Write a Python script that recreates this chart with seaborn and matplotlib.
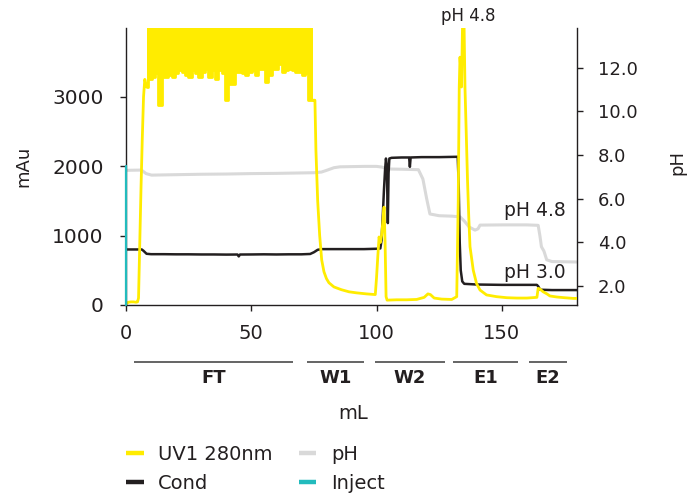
import numpy as np
import pandas as pd
import matplotlib
matplotlib.use("Agg")
import matplotlib.pyplot as plt
import matplotlib.transforms as mtransforms
from matplotlib.ticker import FormatStrFormatter
import seaborn as sns

# ---------------------------------------------------------------- data
# UV 280 nm (mAU): baseline and rise before the load phase
uv_ml_lead = [0, 1, 2, 3, 4, 4.6, 5.0, 5.5, 6.0, 6.5, 7.0, 7.5, 8.25]
uv_lead = [15, 40, 45, 45, 40, 45, 100, 900, 1700, 2400, 3000, 3250, 3140]

# Load phase (flow-through): detector saturated, values are the lower edge of the trace
ft_ml_first, ft_ml_last = 8.25, 74.75
ft_trough = [3140, 3260, 3285, 3335, 2880, 3285, 3285, 3310, 3285, 3335,
             3380, 3355, 3310, 3285, 3380, 3335, 3285, 3355, 3405, 3285,
             3380, 3260, 3380, 3335, 2950, 3190, 3190, 3355, 3355, 3335,
             3310, 3355, 3380, 3310, 3405, 3405, 3215, 3310, 3405, 3405,
             3475, 3355, 3380, 3405, 3380, 3355, 3355, 3310, 3335, 2950,
             2950]

# UV after the load phase: washes, elution 1 and elution 2
uv_ml_tail = [74.75, 75.4, 75.8, 76.5, 77.3, 78.1, 79.0, 80.0, 81.0, 83.0, 86.0,
              89.0, 92.0, 96.0, 99.5, 100.0, 100.5, 101.0, 101.5, 102.0, 102.5,
              103.0, 103.4, 103.8, 104.2, 108.0, 112.0, 116.0, 119.0, 120.5, 121.5,
              123.0, 126.0, 130.0, 132.0, 132.6, 133.0, 133.3, 133.6, 133.9, 134.3,
              134.6, 134.9, 135.3, 135.8, 136.3, 136.8, 137.3, 138.6, 139.9, 141.3,
              143.9, 147.9, 152.0, 156.0, 160.0, 164.0, 164.5, 165.2, 166.5, 168.0,
              169.2, 172.0, 175.0, 178.5, 180.0]
uv_tail = [2950, 2950, 2230, 1500, 1000, 650, 480, 380, 320, 260, 220,
           190, 175, 160, 150, 400, 700, 980, 900, 1000, 1200,
           1410, 900, 120, 70, 75, 75, 80, 110, 160, 150,
           100, 85, 80, 120, 1500, 3140, 3570, 3400, 3140, 4000,
           4600, 4100, 3120, 2470, 1800, 1270, 840, 500, 310, 215,
           145, 120, 105, 100, 100, 110, 240, 230, 190, 160,
           130, 115, 105, 95, 95]

# Conductivity trace, shown on the mAU scale
cond_ml = [0, 6.3, 7.0, 8.2, 10, 15, 20, 25, 30, 35,
           40, 44.5, 45, 45.5, 50, 55, 60, 65, 70, 73.5,
           75.0, 76.5, 78, 85, 90, 95, 100, 101.5, 102.0, 102.5,
           102.95, 103.4, 103.75, 104.1, 104.5, 104.8, 105.1, 106, 110, 113.0,
           113.3, 113.6, 118, 125, 132.4, 132.8, 133.2, 133.6, 134.2, 135,
           140, 150, 160, 164.0, 164.6, 165.3, 170, 180]
cond = [800, 800, 780, 738, 732, 732, 730, 730, 728, 728,
        726, 727, 700, 727, 728, 730, 728, 730, 730, 735,
        760, 795, 805, 805, 805, 805, 810, 815, 935, 1300,
        1655, 1950, 2110, 2000, 1180, 1900, 2110, 2120, 2125, 2125,
        1990, 2125, 2130, 2130, 2135, 1700, 900, 500, 340, 305,
        295, 290, 290, 290, 265, 220, 215, 215]

# pH trace (right axis)
ph_ml = [0, 5.5, 6.3, 8.0, 10.2, 20, 30, 40, 50, 60,
         70, 75, 78, 80.1, 83, 85.4, 95, 100, 102, 105,
         110, 116.7, 118.5, 120, 121.3, 125, 130, 133.3, 135, 137,
         139.3, 140.5, 141.3, 150, 160, 164.5, 165.2, 165.8, 166.8, 167.9,
         170, 180]
ph = [7.30, 7.31, 7.30, 7.15, 7.08, 7.10, 7.12, 7.13, 7.15, 7.16,
      7.18, 7.19, 7.22, 7.30, 7.42, 7.46, 7.48, 7.48, 7.45, 7.36,
      7.35, 7.33, 6.90, 6.00, 5.30, 5.22, 5.20, 5.17, 4.98, 4.70,
      4.56, 4.62, 4.79, 4.80, 4.80, 4.78, 4.30, 3.80, 3.60, 3.20,
      3.12, 3.10]

# Sample injection marker
inject_ml = [0, 0]
inject = [0, 2000]

# Fraction bands under the x axis
frac_names = ["FT", "W1", "W2", "E1", "E2"]
frac_start = [3.2, 72.1, 99.4, 130.5, 160.9]
frac_end = [66.6, 94.9, 127.3, 156.4, 176.0]

# Text annotations: (mL, value, text)
ph_notes = [(163.2, 5.45, "pH 4.8"), (163.2, 2.64, "pH 3.0")]
peak_note = (136.6, "pH 4.8")

# ---------------------------------------------------------------- style
UV_COLOR = "#FFEC00"
COND_COLOR = "#231F20"
PH_COLOR = "#D9D9D9"
INJ_COLOR = "#22BBBD"
TEXT_COLOR = "#231F20"

sns.set_theme(style="ticks")
plt.rcParams["font.family"] = ["DejaVu Sans"]
plt.rcParams["text.color"] = TEXT_COLOR
plt.rcParams["axes.edgecolor"] = TEXT_COLOR
plt.rcParams["xtick.color"] = TEXT_COLOR
plt.rcParams["ytick.color"] = TEXT_COLOR
plt.rcParams["axes.labelcolor"] = TEXT_COLOR

ft_ml = np.linspace(ft_ml_first, ft_ml_last, len(ft_trough))
lead_df = pd.DataFrame({"ml": uv_ml_lead, "mAU": uv_lead})
ft_df = pd.DataFrame({"ml": ft_ml, "mAU": ft_trough})
tail_df = pd.DataFrame({"ml": uv_ml_tail, "mAU": uv_tail})
cond_df = pd.DataFrame({"ml": cond_ml, "mAU": cond})
ph_df = pd.DataFrame({"ml": ph_ml, "pH": ph})
inj_df = pd.DataFrame({"ml": inject_ml, "mAU": inject})

fig = plt.figure(figsize=(7.0, 4.94), dpi=100)
ax = fig.add_axes([126 / 700, 1 - 305 / 494, 451 / 700, 277 / 494])
ax2 = ax.twinx()
ax.set_zorder(ax2.get_zorder() + 1)
ax.patch.set_visible(False)

YMAX = 3990
UV_LW = 2.0
sns.lineplot(data=ph_df, x="ml", y="pH", ax=ax2, color=PH_COLOR, linewidth=2.2,
             estimator=None, sort=False, label="pH")
sns.lineplot(data=cond_df, x="ml", y="mAU", ax=ax, color=COND_COLOR, linewidth=1.8,
             estimator=None, sort=False, label="Cond")
sns.lineplot(data=lead_df, x="ml", y="mAU", ax=ax, color=UV_COLOR, linewidth=UV_LW,
             estimator=None, sort=False, label="UV1 280nm")
# saturated load phase: jagged lower edge, solid up to the detector ceiling
sns.lineplot(data=ft_df, x="ml", y="mAU", ax=ax, color=UV_COLOR, linewidth=UV_LW,
             estimator=None, sort=False, drawstyle="steps-mid")
ax.fill_between(ft_ml, ft_trough, YMAX + 600, step="mid", color=UV_COLOR,
                linewidth=0, zorder=2)
sns.lineplot(data=tail_df, x="ml", y="mAU", ax=ax, color=UV_COLOR, linewidth=UV_LW,
             estimator=None, sort=False)
sns.lineplot(data=inj_df, x="ml", y="mAU", ax=ax, color=INJ_COLOR, linewidth=1.6,
             estimator=None, sort=False, label="Inject")
ax.lines[-1].set_clip_on(False)
ax.lines[-1].set_zorder(3)

# axes limits and ticks
ax.set_xlim(0, 180)
ax.set_ylim(0, YMAX)
ax2.set_ylim(1.13, 13.82)
ax.set_xticks([0, 50, 100, 150])
ax.set_yticks([0, 1000, 2000, 3000])
ax2.set_yticks([2, 4, 6, 8, 10, 12])
ax2.yaxis.set_major_formatter(FormatStrFormatter("%.1f"))

ax.tick_params(axis="y", length=4, width=1, pad=12, labelsize=14.5)
ax.tick_params(axis="x", length=4, width=1, pad=10, labelsize=14)
ax2.tick_params(axis="y", length=4, width=1, pad=11, labelsize=13)

for side in ["top", "right"]:
    ax.spines[side].set_visible(False)
for side in ["top", "left", "bottom"]:
    ax2.spines[side].set_visible(False)
for sp in list(ax.spines.values()) + list(ax2.spines.values()):
    sp.set_linewidth(1.0)

# axis titles
ax.set_ylabel("mAu", fontsize=13)
ax.yaxis.set_label_coords(-0.227, 0.5)
ax.yaxis.label.set_va("center")
ax2.set_ylabel("pH", fontsize=13, rotation=90)
ax2.yaxis.set_label_coords(1.222, 0.516)
ax2.yaxis.label.set_va("center")
ax.set_xlabel("mL", fontsize=14)
ax.xaxis.set_label_coords(0.503, -0.39)
ax.xaxis.label.set_va("center")

# fraction bands
band = mtransforms.blended_transform_factory(ax.transData, ax.transAxes)
for name, a, b in zip(frac_names, frac_start, frac_end):
    ax.plot([a, b], [-0.2047, -0.2047], transform=band, color="#3A3A3A",
            linewidth=1.1, clip_on=False, solid_capstyle="butt")
    ax.text((a + b) / 2, -0.2635, name, transform=band, ha="center", va="center",
            fontsize=13, fontweight="bold", color=TEXT_COLOR, clip_on=False)

# pH annotations
for x, y, s in ph_notes:
    ax2.text(x, y, s, ha="center", va="center", fontsize=13.5, color=TEXT_COLOR, zorder=5)
ax.text(peak_note[0], 1 + 12 / 277, peak_note[1], transform=band, ha="center",
        va="center", fontsize=12, color=TEXT_COLOR, clip_on=False)

# legend across both axes
h1, l1 = ax.get_legend_handles_labels()
h2, l2 = ax2.get_legend_handles_labels()
ax.get_legend().remove()
ax2.get_legend().remove()
lookup = dict(zip(l1 + l2, h1 + h2))
order = ["UV1 280nm", "Cond", "pH", "Inject"]
leg = fig.legend([lookup[k] for k in order], order, ncol=2, loc="upper left",
                 bbox_to_anchor=(126 / 700, 1 - 445 / 494), frameon=False, fontsize=14,
                 handlelength=0.9, handletextpad=0.75, columnspacing=1.35,
                 labelspacing=0.5, borderpad=0, borderaxespad=0)
for h in leg.legend_handles:
    h.set_linewidth(3.2)
    h.set_solid_capstyle("butt")

fig.savefig("out.png", dpi=100)
